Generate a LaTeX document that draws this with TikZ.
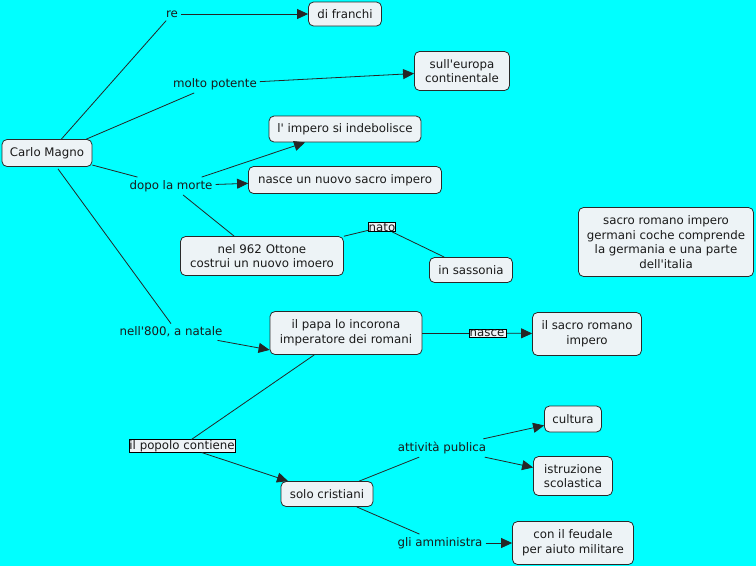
\documentclass[tikz,border=0pt]{standalone}
\usepackage{fontspec}
\setmainfont{DejaVu Sans}[Ligatures=TeXOff]
\usetikzlibrary{arrows.meta,calc}
\definecolor{bgcyan}{HTML}{00FFFF}
\definecolor{boxfill}{HTML}{EDF3F6}
\definecolor{boxline}{HTML}{2A2A2A}
\definecolor{txt}{HTML}{1A1A1A}
\begin{document}
\begin{tikzpicture}[x=1pt,y=-1pt,
  every node/.style={font=\fontsize{11.8}{14.6}\selectfont, text=txt},
  concept/.style={draw=boxline, fill=boxfill, rounded corners=5pt, line width=0.8pt, align=center, inner sep=2pt},
  linklabel/.style={inner sep=3pt, align=center},
  boxlabel/.style={draw=black, fill=boxfill, line width=0.6pt, inner sep=0.5pt},
  conn/.style={draw=black!85, line width=0.8pt},
  arr/.style={conn, -{Triangle[length=11pt,width=10pt]}}
]
\useasboundingbox (0,0) rectangle (756,566);
\fill[bgcyan] (0,0) rectangle (756,566);

% concepts
\node[concept, minimum width=90pt, minimum height=27pt] (carlo) at (47,153) {Carlo Magno};
\node[concept, minimum width=73pt, minimum height=24pt] (franchi) at (345,14) {di franchi};
\node[concept, minimum width=95pt, minimum height=39pt] (europa) at (462,71) {sull'europa\\continentale};
\node[concept, minimum width=152pt, minimum height=26pt] (indebol) at (345,129) {l' impero si indebolisce};
\node[concept, minimum width=193pt, minimum height=27pt] (nuovo) at (345,180) {nasce un nuovo sacro impero};
\node[concept, minimum width=163pt, minimum height=39pt] (ottone) at (262,256) {nel 962 Ottone\\costrui un nuovo imoero};
\node[concept, minimum width=83pt, minimum height=25pt] (sassonia) at (471,270) {in sassonia};
\node[concept, minimum width=175pt, minimum height=69pt] (sacrogerm) at (666,242) {sacro romano impero\\germani coche comprende\\la germania e una parte\\dell'italia};
\node[concept, minimum width=152pt, minimum height=43pt] (papa) at (346,333) {il papa lo incorona\\imperatore dei romani};
\node[concept, minimum width=109pt, minimum height=43pt] (sacro) at (587,334) {il sacro romano\\impero};
\node[concept, minimum width=92pt, minimum height=25pt] (cristiani) at (327,494) {solo cristiani};
\node[concept, minimum width=57pt, minimum height=26pt] (cultura) at (573,419) {cultura};
\node[concept, minimum width=79pt, minimum height=39pt] (istruz) at (573,476) {istruzione\\scolastica};
\node[concept, minimum width=121pt, minimum height=43pt] (feudale) at (573,543) {con il feudale\\per aiuto militare};

% link labels
\node[linklabel] (re) at (172,14) {re};
\node[linklabel] (potente) at (215,84) {molto potente};
\node[linklabel] (morte) at (171,186) {dopo la morte};
\node[boxlabel] (nato) at (382,227) {nato};
\node[linklabel] (natale) at (171,332) {nell'800, a natale};
\node[boxlabel] (nasce) at (488,333) {nasce\,};
\node[boxlabel] (popolo) at (182,446) {il popolo contiene};
\node[linklabel] (attivita) at (442,448) {attività publica};
\node[linklabel] (amministra) at (440,543) {gli amministra};

% connectors
\draw[conn] ($(carlo.north east)+(-31,0)$) -- (re);
\draw[arr] (re) -- (franchi);
\draw[conn] ($(carlo.north east)+(-6,0)$) -- (potente);
\draw[arr] (potente) -- (europa);
\draw[conn] (carlo) -- (morte);
\draw[arr] ($(morte.north east)+(-14,0)$) -- (indebol);
\draw[arr] (morte) -- (nuovo);
\draw[conn] ($(morte.south)+(12,0)$) -- ($(ottone.north west)+(54,0)$);
\draw[conn] (ottone) -- (nato);
\draw[conn] (nato) -- (sassonia);
\draw[conn] ($(carlo.south)+(11,2)$) -- (natale.north);
\draw[arr] ($(natale.south east)+(-8,0)$) -- ($(papa.south west)+(0,-5)$);
\draw[conn] (papa) -- (nasce);
\draw[arr] (nasce) -- (sacro);
\draw[conn] (papa) -- (popolo);
\draw[arr] (popolo) -- (cristiani);
\draw[conn] (cristiani) -- (attivita);
\draw[arr] (attivita) -- (cultura);
\draw[arr] (attivita) -- (istruz);
\draw[conn] (cristiani) -- (amministra);
\draw[arr] (amministra) -- (feudale);
\end{tikzpicture}
\end{document}
